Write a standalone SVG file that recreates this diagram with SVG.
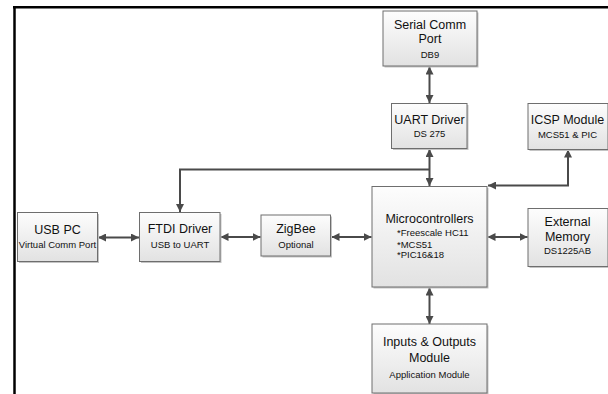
<svg xmlns="http://www.w3.org/2000/svg" width="608" height="394" viewBox="0 0 608 394">
<style>
.box{fill:url(#g);stroke:#6e6e6e;stroke-width:1}
.sh{fill:#c4c4c4}
.t{font-family:"Liberation Sans",Arial,sans-serif;font-size:12.5px;fill:#111;text-anchor:middle}
.s{font-family:"Liberation Sans",Arial,sans-serif;font-size:9.5px;fill:#111;text-anchor:middle}
.b{font-family:"Liberation Sans",Arial,sans-serif;font-size:9.5px;fill:#111}
.c{fill:none;stroke:#4a4a4a;stroke-width:2}
</style>
<defs>
<linearGradient id="g" x1="0" y1="0" x2="0" y2="1">
<stop offset="0" stop-color="#fdfdfd"/>
<stop offset="1" stop-color="#e2e2e2"/>
</linearGradient>
<marker id="a" viewBox="0 0 10 10" refX="10" refY="5" markerWidth="8" markerHeight="8" markerUnits="userSpaceOnUse" orient="auto-start-reverse">
<path d="M0,0 L10,5 L0,10 z" fill="#4a4a4a"/>
</marker>
</defs>
<rect width="608" height="394" fill="#fff"/>
<g id="frame">
<line x1="13" y1="7.3" x2="608" y2="7.3" stroke="#000" stroke-width="2.5"/>
<line x1="14.5" y1="6" x2="14.5" y2="394" stroke="#000" stroke-width="2.5"/>
</g>
<g id="connectors">
<line class="c" x1="429.5" y1="66.5" x2="429.5" y2="103" marker-start="url(#a)" marker-end="url(#a)"/>
<line class="c" x1="429.5" y1="149" x2="429.5" y2="186" marker-start="url(#a)" marker-end="url(#a)"/>
<path class="c" d="M429.5 169.5 H180 V212" marker-end="url(#a)"/>
<path class="c" d="M488 185.5 H568 V149.5" marker-start="url(#a)" marker-end="url(#a)"/>
<line class="c" x1="98" y1="237.5" x2="139" y2="237.5" marker-start="url(#a)" marker-end="url(#a)"/>
<line class="c" x1="220.5" y1="237" x2="260.5" y2="237" marker-start="url(#a)" marker-end="url(#a)"/>
<line class="c" x1="331.5" y1="237" x2="371.5" y2="237" marker-start="url(#a)" marker-end="url(#a)"/>
<line class="c" x1="487.5" y1="237" x2="527.5" y2="237" marker-start="url(#a)" marker-end="url(#a)"/>
<line class="c" x1="429.5" y1="287.5" x2="429.5" y2="324" marker-start="url(#a)" marker-end="url(#a)"/>
</g>
<g id="serial">
<rect class="sh" x="384.5" y="12.5" width="94" height="55"/>
<rect class="box" x="383" y="11" width="94" height="55"/>
<text class="t" x="430" y="28.5">Serial Comm</text>
<text class="t" x="430" y="42.5">Port</text>
<text class="s" x="430" y="57.5">DB9</text>
</g>
<g id="uart">
<rect class="sh" x="393" y="105" width="75.5" height="45"/>
<rect class="box" x="391.5" y="103.5" width="75.5" height="45"/>
<text class="t" x="429.5" y="124.3">UART Driver</text>
<text class="s" x="429.5" y="137">DS 275</text>
</g>
<g id="icsp">
<rect class="sh" x="529.5" y="105" width="80" height="46"/>
<rect class="box" x="528" y="103.5" width="80" height="46"/>
<text class="t" x="567.5" y="123.5">ICSP Module</text>
<text class="s" x="567.5" y="137.8">MCS51 &amp; PIC</text>
</g>
<g id="usbpc">
<rect class="sh" x="19" y="214" width="80" height="49"/>
<rect class="box" x="17.5" y="212.5" width="80" height="49"/>
<text class="t" x="57.5" y="233.5">USB PC</text>
<text class="s" x="57.5" y="247.8">Virtual Comm Port</text>
</g>
<g id="ftdi">
<rect class="sh" x="141" y="214" width="80.5" height="49"/>
<rect class="box" x="139.5" y="212.5" width="80.5" height="49"/>
<text class="t" x="180" y="232.5">FTDI Driver</text>
<text class="s" x="180" y="247.8">USB to UART</text>
</g>
<g id="zigbee">
<rect class="sh" x="262.5" y="216.5" width="69.5" height="41"/>
<rect class="box" x="261" y="215" width="69.5" height="41"/>
<text class="t" x="296" y="233">ZigBee</text>
<text class="s" x="296" y="247.8">Optional</text>
</g>
<g id="micro">
<rect class="sh" x="373.5" y="188" width="115" height="100.5"/>
<rect class="box" x="372" y="186.5" width="115" height="100.5"/>
<text class="t" x="429.5" y="222.5">Microcontrollers</text>
<text class="b" x="397" y="235.5">*Freescale HC11</text>
<text class="b" x="397" y="247.8">*MCS51</text>
<text class="b" x="397" y="258">*PIC16&amp;18</text>
</g>
<g id="extmem">
<rect class="sh" x="529.5" y="210" width="80" height="58"/>
<rect class="box" x="528" y="208.5" width="80" height="58"/>
<text class="t" x="567.5" y="226">External</text>
<text class="t" x="567.5" y="240.5">Memory</text>
<text class="s" x="567.5" y="254.3">DS1225AB</text>
</g>
<g id="io">
<rect class="sh" x="373.5" y="325.5" width="115" height="70"/>
<rect class="box" x="372" y="324" width="115" height="69"/>
<text class="t" x="429.5" y="346">Inputs &amp; Outputs</text>
<text class="t" x="429.5" y="362">Module</text>
<text class="s" x="429.5" y="377.8">Application Module</text>
</g>
</svg>
